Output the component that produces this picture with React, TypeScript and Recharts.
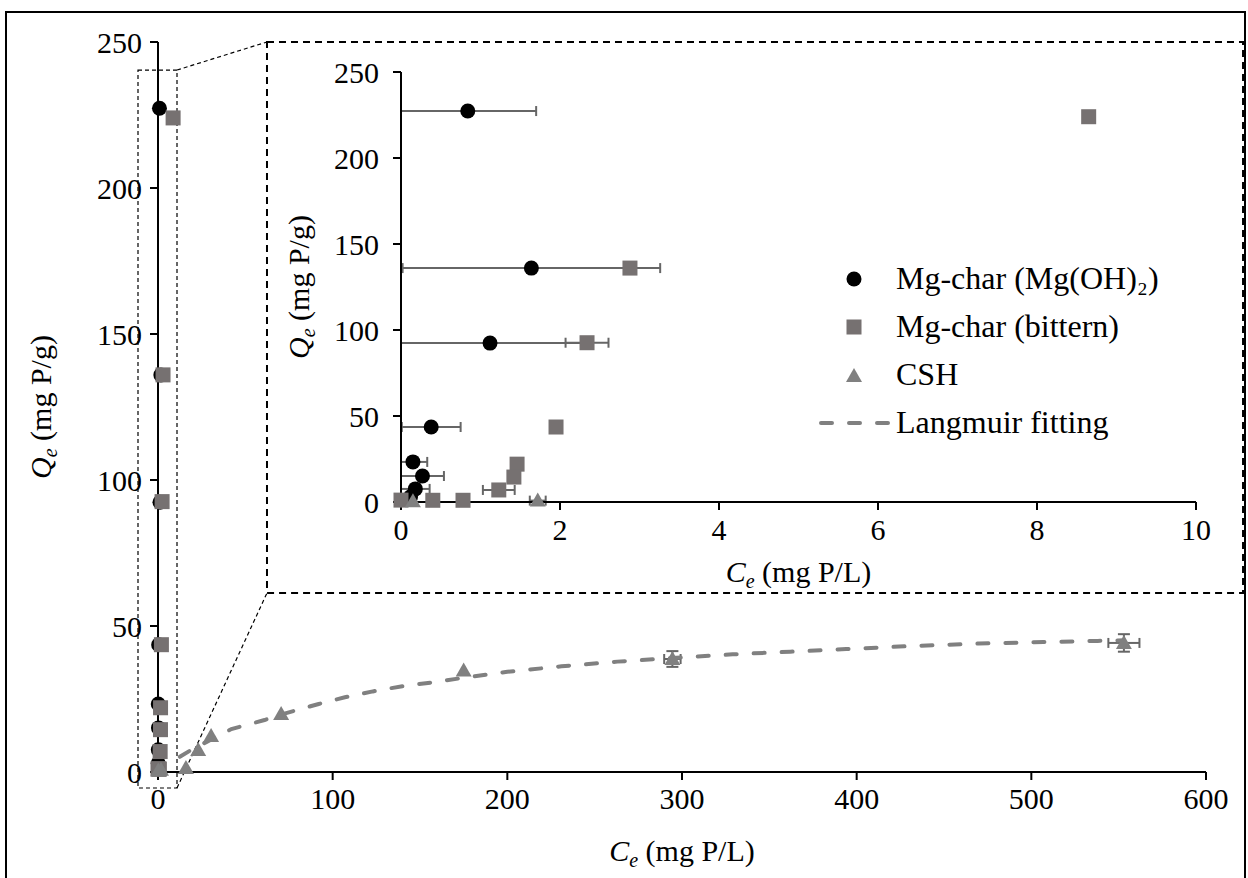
import {
  ErrorBar,
  Legend,
  ReferenceArea,
  ReferenceLine,
  Scatter,
  ScatterChart,
  XAxis,
  YAxis,
} from "recharts";

const FONT = '"Liberation Serif", "Times New Roman", serif';

// Mg-char (Mg(OH)2): Ce (mg P/L), Qe (mg P/g), sd of Ce
const MGOH_CE = [0.84, 1.64, 1.12, 0.38, 0.15, 0.27, 0.18, 0.12];
const MGOH_QE = [227.3, 136, 92.4, 43.6, 23.3, 15.1, 7.6, 3];
const MGOH_CE_SD = [0.86, 1.62, 1.2, 0.37, 0.18, 0.27, 0.18, 0];

// Mg-char (bittern)
const BITTERN_CE = [8.65, 2.88, 2.34, 1.95, 1.46, 1.42, 1.23, 0, 0.4, 0.78];
const BITTERN_QE = [224, 136, 92.6, 43.6, 22, 14.5, 7, 1.1, 1, 1];
const BITTERN_CE_SD = [0, 0, 0.27, 0, 0, 0, 0.2, 0, 0, 0];

// CSH
const CSH_CE = [0.15, 1.72, 16, 23, 30.4, 70.5, 175, 294.5, 553];
const CSH_QE = [0.5, 0.8, 1.4, 7.5, 12.3, 19.9, 34.8, 38.7, 44.2];
const CSH_CE_SD = [0, 0.1, 0, 0, 0, 0, 0, 4.7, 8.9];
const CSH_QE_SD = [0, 0, 0, 0, 0, 0, 0, 2.7, 3];

// Langmuir fitting curve
const FIT_CE = [12.5, 18, 30, 42, 61, 70, 92, 107, 123, 140, 156, 172, 200, 231, 263, 294, 329, 362, 394, 430, 470, 507, 538, 553];
const FIT_QE = [5.2, 7.2, 11.0, 14.7, 17.8, 19.6, 23.3, 25.6, 27.6, 29.4, 30.6, 32.0, 34.3, 36.2, 37.8, 39.0, 40.3, 41.2, 42.1, 43.1, 44.0, 44.5, 44.9, 45.1];

const MAIN_X_TICKS = [0, 100, 200, 300, 400, 500, 600];
const INSET_X_TICKS = [0, 2, 4, 6, 8, 10];
const Y_TICKS = [0, 50, 100, 150, 200, 250];

const LEGEND_LABELS = ["Mg-char (Mg(OH)\u2082)", "Mg-char (bittern)", "CSH", "Langmuir fitting"];

const BLACK = "#000";
const SQUARE_GRAY = "#767171";
const TRI_GRAY = "#808080";
const ERR_GRAY = "#666666";

type Row = { x: number; y: number; ex: number[] | null; ey: number | null };

function toRows(ce: number[], qe: number[], ceSd?: number[], qeSd?: number[]): Row[] {
  return ce.map((x, i) => {
    const sd = ceSd ? ceSd[i] : 0;
    const sy = qeSd ? qeSd[i] : 0;
    return {
      x,
      y: qe[i],
      // Excel clips the bar at the axis, so the low side never passes 0
      ex: sd ? [Math.min(sd, x), sd] : null,
      ey: sy ? sy : null,
    };
  });
}

const mgohRows = toRows(MGOH_CE, MGOH_QE, MGOH_CE_SD);
const bitternRows = toRows(BITTERN_CE, BITTERN_QE, BITTERN_CE_SD);
const cshRows = toRows(CSH_CE, CSH_QE, CSH_CE_SD, CSH_QE_SD);
const fitRows = FIT_CE.map((x, i) => ({ x, y: FIT_QE[i] }));

const Dot = (p: any) => <circle cx={p.cx} cy={p.cy} r={7.5} fill={BLACK} />;
const Square = (p: any) => (
  <rect x={p.cx - 7.5} y={p.cy - 7.5} width={15} height={15} fill={SQUARE_GRAY} />
);
const Triangle = (p: any) => (
  <polygon
    points={`${p.cx},${p.cy - 8} ${p.cx + 8},${p.cy + 6} ${p.cx - 8},${p.cy + 6}`}
    fill={TRI_GRAY}
  />
);

function AxisTitle({ x, y, vertical, unit }: { x: number; y: number; vertical?: boolean; unit: string }) {
  const sym = vertical ? "Q" : "C";
  return (
    <text
      x={x}
      y={y}
      textAnchor="middle"
      fontSize={30}
      fontFamily={FONT}
      fill={BLACK}
      transform={vertical ? `rotate(-90 ${x} ${y})` : undefined}
    >
      <tspan fontStyle="italic">{sym}</tspan>
      <tspan fontStyle="italic" fontSize={20} dy={6}>
        e
      </tspan>
      <tspan dy={-6}>{"\u00a0" + unit}</tspan>
    </text>
  );
}

const axisLine = { stroke: BLACK, strokeWidth: 2 };
const tickStyle = { fontSize: 30, fill: BLACK, fontFamily: FONT };

function seriesErrorBars(withY: boolean) {
  return [
    <ErrorBar key="ex" dataKey="ex" direction="x" width={5} stroke={ERR_GRAY} strokeWidth={2} />,
    withY ? (
      <ErrorBar key="ey" dataKey="ey" direction="y" width={6} stroke={ERR_GRAY} strokeWidth={2} />
    ) : null,
  ];
}

function InsetLegend() {
  return (
    <svg width={420} height={200} style={{ fontFamily: FONT, overflow: "visible" }}>
      {LEGEND_LABELS.map((label, i) => {
        const cy = 27 + i * 48;
        let mark = null;
        if (i === 0) mark = <Dot cx={47} cy={cy} />;
        if (i === 1) mark = <Square cx={47} cy={cy} />;
        if (i === 2) mark = <Triangle cx={47} cy={cy + 1} />;
        if (i === 3)
          mark = (
            <line
              x1={14}
              y1={cy}
              x2={82}
              y2={cy}
              stroke={TRI_GRAY}
              strokeWidth={4}
              strokeDasharray="11 17"
              strokeLinecap="round"
            />
          );
        return (
          <g key={label}>
            {mark}
            <text x={89} y={cy + 10} fontSize={32} fill={BLACK}>
              {label}
            </text>
          </g>
        );
      })}
    </svg>
  );
}

export default function App() {
  return (
    <div
      style={{
        position: "relative",
        width: 1248,
        height: 878,
        overflow: "hidden",
        background: "#fff",
        fontFamily: FONT,
      }}
    >
      <style>{"html,body{margin:0;padding:0;overflow:hidden;background:#fff;}"}</style>
      <div
        style={{
          position: "absolute",
          left: 5,
          top: 11,
          width: 1241,
          height: 900,
          border: "2px solid #000",
          boxSizing: "border-box",
        }}
      />

      {/* main chart */}
      <div style={{ position: "absolute", left: 0, top: 0 }}>
        <ScatterChart width={1248} height={878} margin={{ top: 42, right: 42, bottom: 6, left: 0 }}>
          <XAxis
            type="number"
            dataKey="x"
            domain={[0, 600]}
            ticks={MAIN_X_TICKS}
            interval={0}
            height={100}
            axisLine={axisLine}
            tickLine={axisLine}
            tickSize={8}
            tickMargin={8}
            tick={tickStyle}
            label={(p: any) => (
              <AxisTitle x={p.viewBox.x + p.viewBox.width / 2} y={p.viewBox.y + 89} unit="(mg P/L)" />
            )}
          />
          <YAxis
            type="number"
            dataKey="y"
            domain={[0, 250]}
            ticks={Y_TICKS}
            interval={0}
            width={158}
            axisLine={axisLine}
            tickLine={axisLine}
            tickSize={8}
            tickMargin={8}
            tick={tickStyle}
            label={(p: any) => (
              <AxisTitle x={51} y={p.viewBox.y + p.viewBox.height / 2} vertical unit="(mg P/g)" />
            )}
          />
          {/* inset frame and zoom window */}
          <ReferenceArea
            x1={62.4}
            x2={621.2}
            y1={61.3}
            y2={250}
            ifOverflow="visible"
            fill="#fff"
            fillOpacity={1}
            stroke={BLACK}
            strokeWidth={2}
            strokeDasharray="7 5"
          />
          <ReferenceArea
            x1={-11.45}
            x2={10.88}
            y1={-5.48}
            y2={240.4}
            ifOverflow="visible"
            fill="none"
            fillOpacity={0}
            stroke={BLACK}
            strokeWidth={1.2}
            strokeDasharray="4 3"
          />
          <ReferenceLine
            segment={[{ x: 10.88, y: 240.4 }, { x: 62.4, y: 250 }]}
            ifOverflow="visible"
            stroke={BLACK}
            strokeWidth={1.2}
            strokeDasharray="4 3"
          />
          <ReferenceLine
            segment={[{ x: 10.88, y: -5.48 }, { x: 62.4, y: 61.3 }]}
            ifOverflow="visible"
            stroke={BLACK}
            strokeWidth={1.2}
            strokeDasharray="4 3"
          />
          <Scatter
            name="Langmuir fitting"
            data={fitRows}
            fill={TRI_GRAY}
            line={{ stroke: TRI_GRAY, strokeWidth: 4, strokeDasharray: "11 17", strokeLinecap: "round" }}
            shape={() => <g />}
            isAnimationActive={false}
          />
          <Scatter name="Mg-char (Mg(OH)2)" data={mgohRows} shape={Dot} isAnimationActive={false}>
            {seriesErrorBars(false)}
          </Scatter>
          <Scatter name="Mg-char (bittern)" data={bitternRows} shape={Square} isAnimationActive={false}>
            {seriesErrorBars(false)}
          </Scatter>
          <Scatter name="CSH" data={cshRows} shape={Triangle} isAnimationActive={false}>
            {seriesErrorBars(true)}
          </Scatter>
        </ScatterChart>
      </div>

      {/* inset: zoom of 0-10 mg P/L */}
      <div style={{ position: "absolute", left: 267, top: 42 }}>
        <ScatterChart width={976} height={551} margin={{ top: 30, right: 47, bottom: 0, left: 0 }}>
          <XAxis
            type="number"
            dataKey="x"
            domain={[0, 10]}
            ticks={INSET_X_TICKS}
            interval={0}
            height={91}
            axisLine={axisLine}
            tickLine={axisLine}
            tickSize={8}
            tickMargin={9}
            tick={tickStyle}
            label={(p: any) => (
              <AxisTitle x={p.viewBox.x + p.viewBox.width / 2} y={p.viewBox.y + 80} unit="(mg P/L)" />
            )}
          />
          <YAxis
            type="number"
            dataKey="y"
            domain={[0, 250]}
            ticks={Y_TICKS}
            interval={0}
            width={134}
            axisLine={axisLine}
            tickLine={axisLine}
            tickSize={8}
            tickMargin={14}
            tick={tickStyle}
            label={(p: any) => (
              <AxisTitle x={42} y={p.viewBox.y + p.viewBox.height / 2} vertical unit="(mg P/g)" />
            )}
          />
          <Legend
            layout="horizontal"
            verticalAlign="middle"
            align="center"
            content={() => <InsetLegend />}
            wrapperStyle={{ left: 540, top: 210, width: 420, height: 200 }}
          />
          <Scatter name="Mg-char (Mg(OH)2)" data={mgohRows} shape={Dot} isAnimationActive={false}>
            {seriesErrorBars(false)}
          </Scatter>
          <Scatter name="Mg-char (bittern)" data={bitternRows} shape={Square} isAnimationActive={false}>
            {seriesErrorBars(false)}
          </Scatter>
          <Scatter name="CSH" data={cshRows.slice(0, 2)} shape={Triangle} isAnimationActive={false}>
            {seriesErrorBars(false)}
          </Scatter>
        </ScatterChart>
      </div>
    </div>
  );
}
